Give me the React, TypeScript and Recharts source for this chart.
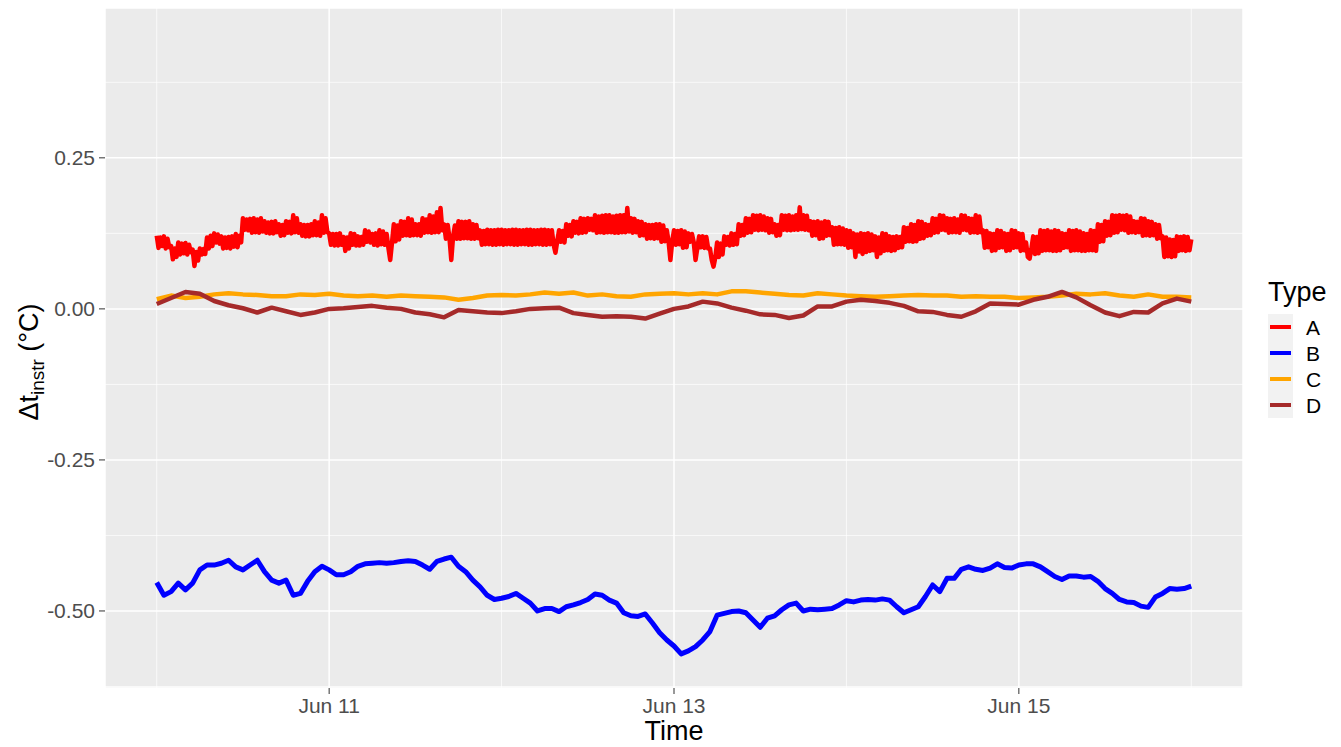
import React from 'react';
import { LineChart, Line, XAxis, YAxis, CartesianGrid, Legend, Label } from 'recharts';

// Time axis is measured in hours since Jun 10 00:00.
const dateTicks = [24, 72, 120];
const dateTickLabels = ['Jun 11', 'Jun 13', 'Jun 15'];
const minorDateLines = [0, 48, 96, 144];
const valueTicks = [0.25, 0, -0.25, -0.5];
const minorValueLines = [0.375, 0.125, -0.125, -0.375, -0.625];

// Type A, readings every 15 minutes (t = 0, 0.25, .. 144 h), 5 hours per row
const seriesA = [
  0.121, 0.101, 0.118, 0.104, 0.120, 0.100, 0.116, 0.102, 0.104, 0.082, 0.100, 0.086, 0.110, 0.090, 0.108, 0.092, 0.109, 0.090, 0.106, 0.094,
  0.098, 0.071, 0.094, 0.080, 0.100, 0.090, 0.099, 0.091, 0.118, 0.100, 0.121, 0.104, 0.125, 0.110, 0.123, 0.108, 0.120, 0.100, 0.118, 0.101,
  0.119, 0.100, 0.120, 0.103, 0.124, 0.102, 0.121, 0.110, 0.150, 0.131, 0.148, 0.130, 0.149, 0.126, 0.150, 0.127, 0.148, 0.126, 0.150, 0.128,
  0.145, 0.126, 0.143, 0.125, 0.144, 0.125, 0.145, 0.127, 0.140, 0.121, 0.139, 0.122, 0.145, 0.126, 0.144, 0.125, 0.155, 0.127, 0.150, 0.126,
  0.140, 0.121, 0.139, 0.120, 0.139, 0.120, 0.140, 0.122, 0.145, 0.122, 0.143, 0.121, 0.155, 0.126, 0.150, 0.127, 0.125, 0.106, 0.124, 0.105,
  0.124, 0.105, 0.125, 0.106, 0.119, 0.096, 0.118, 0.100, 0.125, 0.106, 0.124, 0.105, 0.120, 0.105, 0.119, 0.106, 0.130, 0.111, 0.128, 0.110,
  0.124, 0.106, 0.125, 0.105, 0.130, 0.107, 0.128, 0.106, 0.124, 0.101, 0.081, 0.110, 0.140, 0.112, 0.138, 0.115, 0.145, 0.121, 0.144, 0.122,
  0.150, 0.121, 0.148, 0.122, 0.140, 0.122, 0.140, 0.121, 0.150, 0.126, 0.148, 0.127, 0.155, 0.126, 0.153, 0.127, 0.160, 0.127, 0.167, 0.130,
  0.140, 0.116, 0.139, 0.117, 0.081, 0.120, 0.138, 0.116, 0.145, 0.116, 0.144, 0.117, 0.144, 0.117, 0.145, 0.116, 0.140, 0.116, 0.139, 0.117,
  0.130, 0.106, 0.129, 0.107, 0.131, 0.107, 0.130, 0.106, 0.130, 0.106, 0.131, 0.107, 0.131, 0.106, 0.130, 0.107, 0.130, 0.107, 0.131, 0.106,
  0.131, 0.106, 0.130, 0.107, 0.130, 0.107, 0.131, 0.106, 0.131, 0.106, 0.130, 0.107, 0.130, 0.107, 0.131, 0.106, 0.131, 0.106, 0.130, 0.107,
  0.130, 0.106, 0.093, 0.112, 0.130, 0.111, 0.129, 0.110, 0.140, 0.121, 0.139, 0.120, 0.145, 0.126, 0.144, 0.125, 0.150, 0.126, 0.149, 0.127,
  0.150, 0.131, 0.149, 0.130, 0.155, 0.126, 0.153, 0.127, 0.154, 0.126, 0.155, 0.127, 0.155, 0.127, 0.153, 0.126, 0.154, 0.126, 0.155, 0.127,
  0.155, 0.127, 0.167, 0.128, 0.150, 0.126, 0.149, 0.127, 0.145, 0.121, 0.144, 0.122, 0.140, 0.116, 0.139, 0.117, 0.139, 0.116, 0.140, 0.117,
  0.140, 0.111, 0.138, 0.112, 0.130, 0.111, 0.081, 0.112, 0.130, 0.106, 0.129, 0.107, 0.130, 0.101, 0.128, 0.102, 0.125, 0.111, 0.124, 0.110,
  0.081, 0.101, 0.120, 0.102, 0.120, 0.101, 0.119, 0.100, 0.100, 0.081, 0.070, 0.085, 0.110, 0.086, 0.108, 0.090, 0.120, 0.106, 0.119, 0.105,
  0.125, 0.106, 0.124, 0.107, 0.140, 0.121, 0.139, 0.122, 0.150, 0.126, 0.149, 0.127, 0.155, 0.131, 0.154, 0.130, 0.155, 0.131, 0.153, 0.130,
  0.150, 0.126, 0.149, 0.127, 0.140, 0.121, 0.139, 0.122, 0.155, 0.131, 0.154, 0.130, 0.155, 0.130, 0.153, 0.131, 0.155, 0.131, 0.168, 0.132,
  0.155, 0.131, 0.154, 0.130, 0.145, 0.121, 0.144, 0.122, 0.145, 0.116, 0.143, 0.117, 0.145, 0.121, 0.144, 0.122, 0.135, 0.106, 0.134, 0.107,
  0.135, 0.107, 0.133, 0.106, 0.130, 0.101, 0.129, 0.102, 0.125, 0.086, 0.123, 0.095, 0.125, 0.091, 0.124, 0.094, 0.125, 0.096, 0.123, 0.097,
  0.120, 0.086, 0.118, 0.092, 0.125, 0.096, 0.124, 0.097, 0.120, 0.096, 0.119, 0.097, 0.120, 0.101, 0.119, 0.102, 0.135, 0.111, 0.134, 0.112,
  0.140, 0.111, 0.139, 0.112, 0.145, 0.116, 0.144, 0.117, 0.140, 0.121, 0.139, 0.122, 0.150, 0.126, 0.149, 0.127, 0.155, 0.131, 0.154, 0.130,
  0.150, 0.126, 0.149, 0.127, 0.150, 0.127, 0.148, 0.126, 0.155, 0.131, 0.154, 0.130, 0.150, 0.126, 0.149, 0.127, 0.155, 0.126, 0.153, 0.127,
  0.130, 0.101, 0.129, 0.102, 0.125, 0.096, 0.124, 0.097, 0.130, 0.101, 0.129, 0.102, 0.125, 0.096, 0.124, 0.097, 0.130, 0.101, 0.129, 0.102,
  0.125, 0.096, 0.124, 0.097, 0.110, 0.086, 0.083, 0.100, 0.120, 0.091, 0.119, 0.092, 0.130, 0.096, 0.129, 0.097, 0.130, 0.097, 0.128, 0.096,
  0.130, 0.096, 0.129, 0.097, 0.125, 0.101, 0.124, 0.102, 0.130, 0.096, 0.129, 0.097, 0.130, 0.097, 0.128, 0.096, 0.125, 0.096, 0.124, 0.097,
  0.130, 0.097, 0.129, 0.096, 0.140, 0.111, 0.139, 0.112, 0.145, 0.121, 0.144, 0.122, 0.155, 0.126, 0.154, 0.127, 0.155, 0.131, 0.154, 0.130,
  0.155, 0.126, 0.153, 0.127, 0.145, 0.126, 0.144, 0.127, 0.150, 0.121, 0.149, 0.122, 0.145, 0.121, 0.144, 0.122, 0.140, 0.116, 0.139, 0.117,
  0.120, 0.086, 0.118, 0.087, 0.115, 0.086, 0.114, 0.087, 0.120, 0.096, 0.119, 0.097, 0.120, 0.096, 0.119, 0.097,
  0.115,
];

// Type B, hourly readings (t = 0, 1, .. 144 h)
const seriesB = [
  -0.453, -0.474, -0.468, -0.454, -0.465, -0.454, -0.432, -0.424, -0.424, -0.421,
  -0.416, -0.427, -0.432, -0.424, -0.416, -0.435, -0.449, -0.454, -0.449, -0.474,
  -0.471, -0.451, -0.435, -0.426, -0.432, -0.440, -0.440, -0.435, -0.426, -0.422,
  -0.421, -0.420, -0.421, -0.420, -0.418, -0.417, -0.418, -0.424, -0.431, -0.418,
  -0.414, -0.411, -0.426, -0.435, -0.449, -0.460, -0.474, -0.481, -0.479, -0.476,
  -0.471, -0.479, -0.487, -0.500, -0.496, -0.496, -0.501, -0.493, -0.490, -0.486,
  -0.481, -0.472, -0.474, -0.482, -0.487, -0.503, -0.508, -0.509, -0.505, -0.520,
  -0.536, -0.548, -0.558, -0.571, -0.566, -0.559, -0.548, -0.534, -0.507, -0.504,
  -0.501, -0.500, -0.503, -0.515, -0.527, -0.512, -0.508, -0.498, -0.490, -0.487,
  -0.500, -0.497, -0.498, -0.497, -0.496, -0.490, -0.483, -0.485, -0.482, -0.481,
  -0.482, -0.480, -0.482, -0.493, -0.503, -0.498, -0.493, -0.476, -0.457, -0.468,
  -0.446, -0.446, -0.431, -0.427, -0.431, -0.433, -0.429, -0.422, -0.428, -0.429,
  -0.424, -0.422, -0.422, -0.427, -0.435, -0.443, -0.448, -0.442, -0.442, -0.444,
  -0.443, -0.451, -0.463, -0.471, -0.481, -0.485, -0.486, -0.492, -0.494, -0.477,
  -0.471, -0.463, -0.464, -0.463, -0.459,
];

// Types C and D, readings every 2 hours (t = 0, 2, .. 144 h)
const seriesC = [
  0.016, 0.022, 0.018, 0.020, 0.024, 0.026, 0.024, 0.023, 0.021, 0.021,
  0.024, 0.023, 0.025, 0.022, 0.021, 0.022, 0.020, 0.022, 0.021, 0.020,
  0.019, 0.015, 0.018, 0.022, 0.023, 0.022, 0.024, 0.027, 0.025, 0.027,
  0.022, 0.024, 0.021, 0.020, 0.024, 0.025, 0.026, 0.024, 0.026, 0.024,
  0.029, 0.029, 0.027, 0.025, 0.023, 0.022, 0.026, 0.024, 0.022, 0.021,
  0.020, 0.021, 0.022, 0.023, 0.022, 0.022, 0.020, 0.021, 0.020, 0.020,
  0.018, 0.019, 0.020, 0.022, 0.025, 0.024, 0.026, 0.022, 0.020, 0.024,
  0.020, 0.020, 0.019,
];

const seriesD = [
  0.008, 0.018, 0.028, 0.025, 0.013, 0.006, 0.001, -0.006, 0.002, -0.004,
  -0.010, -0.006, 0.000, 0.001, 0.003, 0.005, 0.002, 0.000, -0.006, -0.009,
  -0.014, -0.002, -0.004, -0.006, -0.007, -0.004, 0.000, 0.001, 0.002, -0.007,
  -0.010, -0.013, -0.012, -0.013, -0.016, -0.008, 0.000, 0.004, 0.012, 0.009,
  0.002, -0.003, -0.009, -0.010, -0.015, -0.011, 0.004, 0.004, 0.012, 0.015,
  0.013, 0.010, 0.005, -0.004, -0.005, -0.010, -0.013, -0.004, 0.009, 0.008,
  0.007, 0.015, 0.020, 0.028, 0.019, 0.006, -0.006, -0.012, -0.005, -0.006,
  0.009, 0.017, 0.012,
];

const types = [
  { key: 'A', color: '#FF0000', width: 4.5 },
  { key: 'B', color: '#0000FF', width: 5 },
  { key: 'C', color: '#FFA500', width: 4.5 },
  { key: 'D', color: '#A52A2A', width: 4.5 },
];

// One row per quarter hour; coarser series leave gaps that connectNulls bridges.
const data = seriesA.map((a, i) => ({
  t: i / 4,
  A: a,
  B: i % 4 === 0 ? seriesB[i / 4] : null,
  C: i % 8 === 0 ? seriesC[i / 8] : null,
  D: i % 8 === 0 ? seriesD[i / 8] : null,
}));

const FONT = '"Liberation Sans", Arial, Helvetica, sans-serif';
const TICK_STYLE = { fill: '#4D4D4D', fontSize: 21, fontFamily: FONT };

const XTitle = (props: any) => {
  const vb = props.viewBox || {};
  return (
    <text x={vb.x + vb.width / 2} y={740} textAnchor="middle" fontSize={27} fontFamily={FONT} fill="#000">
      Time
    </text>
  );
};

const YTitle = () => (
  <text transform="translate(38, 362) rotate(-90)" textAnchor="middle" fontSize={27} fontFamily={FONT} fill="#000">
    <tspan>Δt</tspan>
    <tspan fontSize={19} dy={6}>instr</tspan>
    <tspan dy={-6}> (°C)</tspan>
  </text>
);

const TypeLegend = () => (
  <svg width={80} height={160} style={{ display: 'block', overflow: 'visible' }}>
    <text x={6} y={35} fontSize={27} fontFamily={FONT} fill="#000">Type</text>
    {types.map((t, i) => {
      const top = 48 + i * 26;
      return (
        <g key={t.key}>
          <rect x={6} y={top} width={25} height={26} fill="#F2F2F2" />
          <line x1={8} x2={29} y1={top + 13} y2={top + 13} stroke={t.color} strokeWidth={4} />
          <text x={44} y={top + 20.5} fontSize={21} fontFamily={FONT} fill="#000">{t.key}</text>
        </g>
      );
    })}
  </svg>
);

export default function App() {
  return (
    <div style={{ position: 'absolute', left: 0, top: 0, width: 1341, height: 747, background: '#fff' }}>
      <LineChart
        width={1341}
        height={747}
        data={data}
        margin={{ top: 8, right: 98, bottom: 0, left: 0 }}
      >
        <CartesianGrid
          fill="#EBEBEB"
          fillOpacity={1}
          stroke="#FFFFFF"
          strokeWidth={0.7}
          horizontalValues={minorValueLines}
          verticalValues={minorDateLines}
        />
        <CartesianGrid stroke="#FFFFFF" strokeWidth={1.5} />
        <XAxis
          type="number"
          dataKey="t"
          domain={[-7.2, 151.2]}
          ticks={dateTicks}
          tickFormatter={(v: number) => dateTickLabels[dateTicks.indexOf(v)] ?? ''}
          allowDataOverflow
          height={59}
          axisLine={false}
          tickLine={{ stroke: '#333333', strokeWidth: 1 }}
          tickSize={6}
          tickMargin={4}
          tick={TICK_STYLE}
        >
          <Label content={XTitle} />
        </XAxis>
        <YAxis
          type="number"
          domain={[-0.6275, 0.498]}
          ticks={valueTicks}
          tickFormatter={(v: number) => v.toFixed(2)}
          allowDataOverflow
          width={105}
          axisLine={false}
          tickLine={{ stroke: '#333333', strokeWidth: 1 }}
          tickSize={6}
          tickMargin={4}
          tick={TICK_STYLE}
        >
          <Label content={YTitle} />
        </YAxis>
        <Legend
          layout="vertical"
          align="center"
          verticalAlign="middle"
          content={TypeLegend}
          wrapperStyle={{ position: 'absolute', left: 1262, top: 266, width: 80, height: 160 }}
        />
        {types.map((t) => (
          <Line
            key={t.key}
            type="linear"
            dataKey={t.key}
            stroke={t.color}
            strokeWidth={t.width}
            strokeLinejoin="round"
            dot={false}
            activeDot={false}
            connectNulls
            isAnimationActive={false}
          />
        ))}
      </LineChart>
    </div>
  );
}
